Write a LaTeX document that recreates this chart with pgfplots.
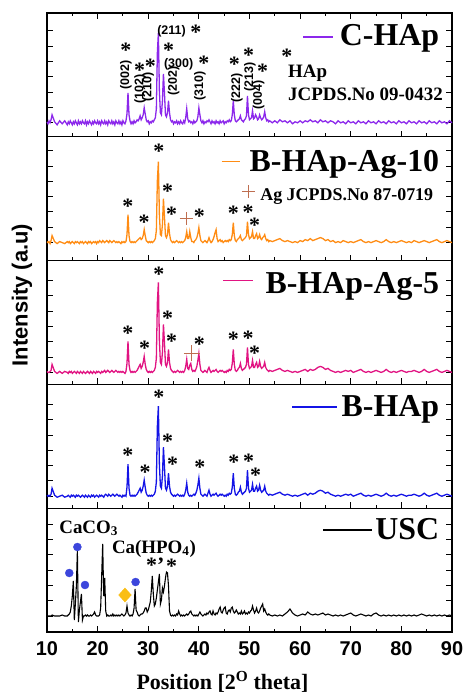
\documentclass[border=0pt]{standalone}
\usepackage{fontspec}
\setmainfont{Liberation Serif}
\newfontfamily\arial{Liberation Sans}
\usepackage{pgfplots}
\pgfplotsset{compat=1.18}
\usepackage{pgfplotstable}
\usepgfplotslibrary{groupplots}
\usetikzlibrary{calc}

\definecolor{chap}{RGB}{140,40,235}
\definecolor{ag10}{RGB}{255,140,20}
\definecolor{ag5}{RGB}{225,20,130}
\definecolor{bhap}{RGB}{20,20,230}
\definecolor{plusc}{RGB}{190,110,80}
\definecolor{dotc}{RGB}{60,70,220}
\definecolor{gold}{RGB}{250,190,20}

% heights above each sample's own baseline (px-like units)
\pgfplotstableread{
x C A10 A5 B U
10.0 1 1 1 1 0
10.2 -1 0 0 0 0
10.4 2 1 0 1 0
10.6 0 -1 1 0 0
10.8 3 2 2 2 0
11.0 8 7 8 8 1
11.5 1 1 1 1 0
12.0 -2 -1 -1 -1 0
12.5 2 1 1 0 0
13.0 -1 0 -1 1 1
13.5 2 -1 1 -1 0
14.0 -2 1 0 0 0
14.2 1 0 -1 1 1
14.4 -1 1 1 0 2
14.6 2 -1 0 -1 4
14.8 0 0 1 1 10
15.0 -2 1 -1 0 20
15.2 1 0 0 1 35
15.4 -1 -1 1 0 -4
15.6 2 1 0 -1 12
15.8 0 0 -1 1 30
16.0 -2 1 1 0 65
16.2 2 0 0 1 -6
16.4 -1 -1 -1 0 6
16.6 1 1 1 -1 14
16.8 -1 0 0 0 22
17.0 2 1 -1 1 -4
17.2 0 -1 1 0 0
17.4 -1 0 0 -1 0
17.6 2 1 -1 1 1
17.8 -2 0 0 0 0
18.0 1 -1 1 -1 1
18.2 -1 1 0 1 0
18.4 2 0 -1 0 0
18.6 0 1 1 -1 1
18.8 -2 -1 0 1 0
19.0 1 0 -1 0 1
19.2 -1 1 1 1 2
19.4 2 0 0 -1 4
19.6 0 1 -1 0 1
19.8 -1 -1 1 1 0
20.0 2 1 0 0 0
20.2 -1 0 1 -1 0
20.4 1 2 0 1 1
20.6 -2 1 -1 0 8
20.8 2 0 1 1 40
21.0 0 2 0 0 72
21.2 -1 1 1 -1 20
21.4 2 0 2 1 38
21.6 -1 1 0 2 5
21.8 1 2 1 1 0
22.0 -2 1 2 0 1
22.2 2 0 1 2 0
22.4 0 2 0 1 0
22.6 -1 1 1 0 1
22.8 2 0 2 1 0
23.0 -1 1 1 2 2
23.2 1 2 0 1 0
23.4 -2 1 1 0 1
23.6 2 0 2 1 0
23.8 0 1 1 2 1
24.0 -1 0 0 1 0
24.2 2 1 1 0 1
24.4 -1 0 0 1 0
24.6 1 -1 1 0 1
24.8 -2 1 0 -1 2
25.0 2 0 1 1 1
25.2 0 1 0 0 0
25.4 -1 0 -1 1 1
25.6 2 1 1 0 3
25.8 9 8 9 9 10
26.0 30 28 31 32 3
26.2 8 7 8 8 1
26.4 2 1 2 1 0
26.6 -1 0 0 0 1
26.8 1 1 1 1 0
27.0 -1 0 0 0 2
27.2 2 1 1 1 8
27.4 0 0 0 0 27
27.6 1 1 1 1 6
27.8 3 2 2 2 4
28.0 2 3 4 4 1
28.2 4 4 6 6 0
28.4 7 5 8 8 1
28.6 3 3 4 4 2
28.8 5 4 6 6 2
29.0 8 7 10 10 3
29.2 15 13 16 16 5
29.4 9 7 8 9 8
29.6 3 2 3 3 8
29.8 1 1 1 1 4
30.0 2 0 0 0 6
30.2 -1 1 1 1 10
30.4 1 0 0 0 14
30.6 0 1 1 1 25
30.8 2 0 0 0 40
31.0 1 1 1 1 22
31.2 3 2 2 2 10
31.4 5 4 5 5 12
31.6 14 12 14 14 18
31.8 70 62 70 70 26
32.0 90 81 90 90 34
32.2 32 28 32 32 42
32.4 10 8 10 10 12
32.6 8 7 8 8 16
32.8 22 18 20 20 28
33.0 49 44 48 49 24
33.2 30 26 30 30 30
33.4 8 7 8 8 38
33.6 6 5 6 6 44
33.8 10 8 10 10 43
34.0 22 20 23 23 30
34.2 10 9 10 10 5
34.4 3 3 4 4 1
34.6 1 1 2 2 0
34.8 2 0 1 1 1
35.0 -1 1 0 0 0
35.2 1 0 1 1 1
35.4 0 1 0 0 0
35.6 2 2 1 1 2
35.8 -1 1 2 2 1
36.0 1 0 1 1 5
36.2 -1 1 0 0 2
36.4 2 0 1 1 0
36.6 0 1 0 0 1
36.8 -1 0 1 1 0
37.0 2 1 0 0 1
37.2 0 2 2 2 0
37.4 5 5 6 6 1
37.6 14 11 13 13 2
37.8 4 4 4 4 1
38.0 1 4 3 1 2
38.2 2 11 7 0 4
38.4 0 5 9 1 5
38.6 1 1 3 0 2
38.8 -1 1 1 1 1
39.0 2 0 2 2 0
39.2 0 2 1 1 1
39.4 1 3 3 3 0
39.6 2 5 6 6 1
39.8 6 9 12 11 0
40.0 15 15 19 18 2
40.2 8 7 8 8 4
40.4 2 2 2 2 2
40.6 0 1 1 1 1
40.8 2 0 0 0 0
41.0 -1 1 1 1 1
41.2 1 2 2 2 2
41.4 0 1 1 1 1
41.6 2 0 0 0 3
41.8 1 2 3 3 2
42.0 3 5 5 6 4
42.2 1 2 2 2 5
42.4 -1 0 0 0 2
42.6 2 1 1 1 1
42.8 0 3 2 2 5
43.0 1 6 1 1 2
43.2 -1 10 2 2 1
43.4 2 13 3 3 3
43.6 0 4 1 1 2
43.8 1 1 0 0 4
44.0 -1 2 1 1 7
44.2 2 3 2 2 9
44.4 0 1 1 1 4
44.6 1 2 2 2 3
44.8 2 0 1 1 6
45.0 -1 1 0 0 8
45.2 1 2 1 1 9
45.4 0 1 0 0 3
45.6 2 2 2 2 2
45.8 1 1 1 1 5
46.0 3 3 3 3 6
46.2 1 2 2 2 4
46.4 2 3 3 3 8
46.6 8 8 9 9 9
46.8 22 20 23 23 5
47.0 8 7 8 8 3
47.2 2 2 2 2 4
47.4 1 1 1 1 6
47.6 2 3 2 2 4
47.8 3 4 4 4 2
48.0 4 5 5 5 3
48.2 7 7 9 9 2
48.4 3 3 4 4 5
48.6 2 2 2 2 2
48.8 1 3 3 3 3
49.0 3 4 4 4 5
49.2 4 5 5 5 2
49.4 7 7 8 8 3
49.6 27 21 25 26 2
49.8 8 8 8 8 4
50.0 3 4 4 4 3
50.2 4 5 5 5 5
50.4 5 6 6 6 6
50.6 12 11 12 12 10
50.8 4 4 5 5 6
51.0 5 4 5 5 3
51.2 8 7 8 8 5
51.4 6 9 10 10 8
51.6 3 4 5 5 4
51.8 4 5 6 6 3
52.0 8 8 11 11 5
52.2 5 4 6 6 8
52.4 3 3 4 4 10
52.6 4 5 5 5 12
52.8 6 6 6 6 5
53.0 11 8 10 10 7
53.2 5 4 5 5 4
53.4 2 2 3 3 2
53.6 3 3 2 2 1
53.8 1 1 1 1 2
54.0 2 2 2 2 1
54.5 0 1 1 1 0
55.0 2 2 2 2 1
55.5 0 3 3 3 0
56.0 3 4 4 4 1
56.5 1 2 2 2 0
57.0 2 1 1 1 2
57.5 0 2 2 2 4
58.0 2 1 1 1 7
58.5 -1 0 0 0 3
59.0 1 1 1 1 1
59.5 0 0 0 0 0
60.0 2 2 1 1 1
60.5 0 1 2 2 2
61.0 2 3 3 3 1
61.5 1 2 1 1 4
62.0 3 4 3 3 2
62.5 1 2 2 2 1
63.0 2 3 3 3 2
63.5 0 4 5 5 1
64.0 3 5 6 6 2
64.5 1 4 5 5 3
65.0 2 2 3 3 1
65.5 0 3 4 4 2
66.0 2 1 2 2 1
66.5 1 2 1 1 0
67.0 -1 0 0 0 1
67.5 2 1 1 1 0
68.0 0 0 0 0 1
68.5 1 2 1 1 0
69.0 -1 1 2 2 1
69.5 2 0 1 1 2
70.0 0 1 2 2 3
70.5 1 0 0 0 1
71.0 -1 1 1 1 0
71.5 2 2 2 2 1
72.0 0 3 3 3 2
72.5 1 1 1 1 1
73.0 -1 0 0 0 0
73.5 2 1 1 1 1
74.0 0 0 0 0 0
74.5 1 1 1 1 2
75.0 -1 2 2 2 3
75.5 2 1 1 1 1
76.0 0 0 0 0 0
76.5 1 1 1 1 1
77.0 -1 3 3 3 0
77.5 2 1 1 1 1
78.0 0 0 0 0 0
78.5 1 1 1 1 1
79.0 -1 0 0 0 0
79.5 2 1 1 1 1
80.0 0 2 2 2 0
80.5 1 1 1 1 1
81.0 -1 0 0 0 0
81.5 2 1 1 1 1
82.0 0 0 1 1 0
82.5 1 2 2 2 1
83.0 -1 1 1 1 0
83.5 2 0 0 0 1
84.0 0 1 1 1 2
84.5 1 2 3 3 1
85.0 -1 1 1 1 0
85.5 2 0 0 0 1
86.0 0 1 1 1 0
86.5 1 2 2 2 1
87.0 -1 3 3 3 0
87.5 2 1 1 1 1
88.0 0 0 0 0 0
88.5 1 1 1 1 1
89.0 -1 2 2 2 0
89.5 2 1 1 1 1
90.0 0 0 0 0 0
}\xrd

\newcommand\lgf{\bfseries\fontsize{32}{32}\selectfont}
\newcommand\anf{\bfseries\fontsize{19}{19}\selectfont}
\newcommand\hkf{\arial\bfseries\fontsize{12.5}{12.5}\selectfont}
\newcommand\st[2]{\node[font=\bfseries\fontsize{22}{22}\selectfont,inner sep=0pt] at (axis cs:#1,#2) {*};}
\newcommand\hkv[3]{\node[font=\hkf,inner sep=0pt,rotate=90] at (axis cs:#1,#2) {(#3)};}
\newcommand\hkh[3]{\node[font=\hkf,inner sep=0pt] at (axis cs:#1,#2) {(#3)};}
% colour, line from, line to, line y, text baseline, text
\newcommand\leg[6]{%
  \draw[#1,line width=1.6bp] (axis cs:#2,#4) -- (axis cs:#3,#4);
  \node[font=\lgf,anchor=base east,inner sep=0pt] at (axis cs:87.5,#5) {#6};}

\begin{document}
\begin{tikzpicture}
\begin{groupplot}[
  group style={group size=1 by 5, vertical sep=0pt, xticklabels at=edge bottom},
  scale only axis, width=405bp, height=123.8bp,
  xmin=10, xmax=90, xtick={10,20,...,90}, minor x tick num=1,
  ytick={0,15.3,30.6,45.9,61.2,76.5,91.8}, yticklabels={},
  tick align=inside, xtick pos=left, ytick pos=both,
  major tick length=6bp, minor tick length=3.5bp,
  axis line style={line width=1.2bp},
  every tick/.style={black,line width=1bp},
  xticklabel style={font=\arial\bfseries\fontsize{20}{20}\selectfont, yshift=-6bp},
  /pgf/number format/assume math mode=true,
  clip=false,
]
% ---- C-HAp
\nextgroupplot[ymin=-14, ymax=109.8, xtick pos=both]
\addplot[chap, line width=1.3bp] table[x=x,y=C]{\xrd};
\leg{chap}{60.6}{66.5}{86}{77}{C-HAp}
\node[font=\anf,anchor=base west,inner sep=0pt] at (axis cs:57.6,45) {HAp};
\node[font=\anf,anchor=base west,inner sep=0pt] at (axis cs:57.6,22) {JCPDS.No 09-0432};
\st{25.6}{73}\st{28.3}{53}\st{30.4}{57}\st{34.0}{73}\st{39.4}{91}
\st{41.0}{60}\st{47.0}{59}\st{49.8}{68}\st{52.6}{52}\st{57.4}{67}
\hkv{25.6}{48}{002}\hkv{28.4}{34}{102}\hkv{30.0}{36}{210}\hkv{35.0}{42}{202}
\hkv{40.2}{37}{310}\hkv{47.5}{35}{222}\hkv{50.1}{46}{213}\hkv{51.8}{28}{004}
\hkh{34.6}{92}{211}\hkh{36.0}{59}{300}
% ---- B-HAp-Ag-10
\nextgroupplot[ymin=-18, ymax=105.8]
\addplot[ag10, line width=1.3bp] table[x=x,y=A10]{\xrd};
\leg{ag10}{44.5}{48.1}{81}{71}{B-HAp-Ag-10}
\addplot[only marks, mark=+, mark size=6.5bp, plusc, mark options={line width=1.4bp}] coordinates {(49.8,51) (37.5,24)};
\node[font=\bfseries\fontsize{18}{18}\selectfont,anchor=base west,inner sep=0pt] at (axis cs:52.1,42) {Ag JCPDS.No 87-0719};
\st{25.95}{36}\st{29.2}{20}\st{32.1}{91}\st{33.8}{51}\st{34.6}{28}
\st{40.1}{26}\st{46.8}{29}\st{49.7}{30}\st{51.0}{17}
% ---- B-HAp-Ag-5
\nextgroupplot[ymin=-12, ymax=111.8]
\addplot[ag5, line width=1.3bp] table[x=x,y=A5]{\xrd};
\leg{ag5}{44.8}{50.7}{92}{79}{B-HAp-Ag-5}
\addplot[only marks, mark=+, mark size=8bp, plusc, mark options={line width=1.4bp}] coordinates {(38.6,19)};
\st{25.95}{39}\st{29.3}{24}\st{32.1}{98}\st{33.8}{54}\st{34.6}{31}
\st{40.1}{28}\st{46.8}{33}\st{49.7}{34}\st{51.0}{19}
% ---- B-HAp
\nextgroupplot[ymin=-12, ymax=111.8]
\addplot[bhap, line width=1.3bp] table[x=x,y=B]{\xrd};
\leg{bhap}{58.4}{67.3}{89}{80}{B-HAp}
\st{25.95}{41}\st{29.4}{24}\st{32.1}{99}\st{33.8}{55}\st{34.8}{32}
\st{40.2}{29}\st{46.9}{34}\st{49.8}{35}\st{51.2}{21}
% ---- USC
\nextgroupplot[ymin=-16, ymax=107.8]
\addplot[black, line width=1.1bp] table[x=x,y=U]{\xrd};
\leg{black}{64.6}{74.2}{86}{77}{USC}
\addplot[only marks, mark=*, mark size=4bp, dotc] coordinates {(14.4,43) (16.0,69) (17.5,31) (27.5,34)};
\addplot[only marks, mark=diamond*, mark size=7bp, gold, mark options={xscale=1.2}] coordinates {(25.4,21)};
\node[font=\anf,anchor=base west,inner sep=0pt] at (axis cs:12.4,83) {CaCO\textsubscript{3}};
\node[font=\anf,anchor=base west,inner sep=0pt] at (axis cs:22.8,63) {Ca(HPO\textsubscript{4})};
\node[font=\bfseries\fontsize{22}{22}\selectfont,inner sep=0pt] at (axis cs:31.4,51) {*'};
\st{34.6}{50}
\end{groupplot}
\node[rotate=90, font=\arial\bfseries\fontsize{22}{22}\selectfont] at ($(group c1r5.south west)+(-25bp,337bp)$) {Intensity (a.u)};
\node[font=\bfseries\fontsize{22}{22}\selectfont] at ($(group c1r5.south west)+(175.5bp,-50bp)$) {Position [2\textsuperscript{O} theta]};
\pgfresetboundingbox
\path ($(group c1r5.south west)+(-47bp,-63bp)$) rectangle ++(464bp,695bp);
\end{tikzpicture}
\end{document}
